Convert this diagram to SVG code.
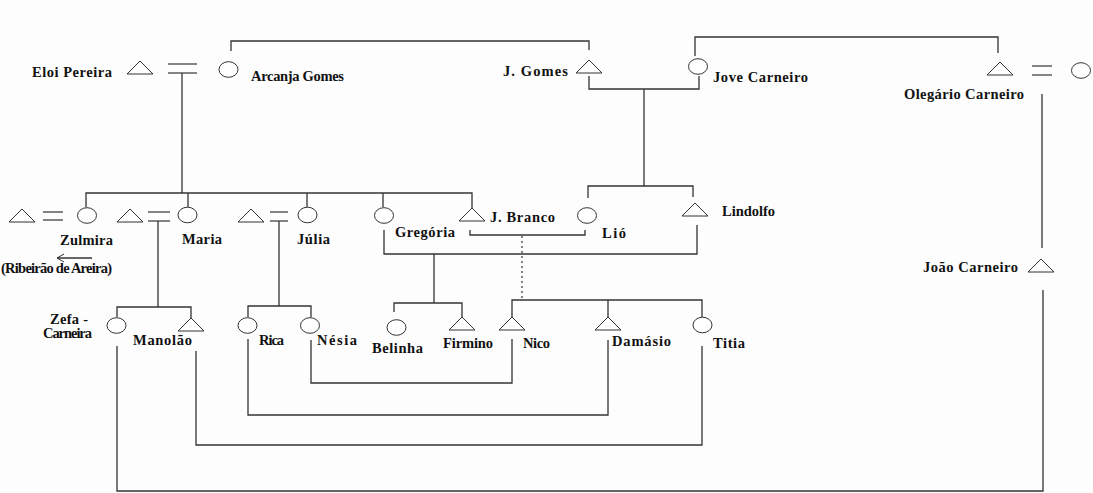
<svg xmlns="http://www.w3.org/2000/svg" xmlns:xlink="http://www.w3.org/1999/xlink" width="1093" height="493" viewBox="0 0 1093 493">
<style>
.shape{fill:#fff;stroke:#333;stroke-width:1}
.eq{stroke:#333;stroke-width:1.2}
.ln{fill:none;stroke:#333;stroke-width:1.3}
.dot{fill:none;stroke:#333;stroke-width:1.2;stroke-dasharray:2,3}
text{font-family:"Liberation Serif","Times New Roman",serif;font-weight:bold;font-size:14.5px;fill:#111}
</style>
<defs>
<polygon id="tri" points="-13,13 0,0 13,13"/>
<ellipse id="cir" rx="9.5" ry="7.8"/>
<marker id="open" markerWidth="10" markerHeight="10" refX="8" refY="5" orient="auto" markerUnits="userSpaceOnUse">
<path d="M1,1 L8,5 L1,9" fill="none" stroke="#333" stroke-width="1"/>
</marker>
</defs>
<rect width="1093" height="493" fill="#fdfdfd"/>
<g id="connectors">
<path class="ln" d="M231,51 V41 H589 V50"/>
<path class="ln" d="M695,56 V37 H998 V53"/>
<path class="ln" d="M589,76 V89 H699 V76"/>
<path class="ln" d="M644,89 V186"/>
<path class="ln" d="M588,198 V186 H693 V197"/>
<path class="ln" d="M182,73 V193"/>
<path class="ln" d="M86,207 V193 H472 V208"/>
<path class="ln" d="M188,193 V207"/>
<path class="ln" d="M307,193 V207"/>
<path class="ln" d="M383,193 V207"/>
<path class="ln" d="M470,230 V235 H585 V230"/>
<path class="dot" d="M522,236 V300"/>
<path class="ln" d="M384,230 V254 H697 V225"/>
<path class="ln" d="M434,254 V303"/>
<path class="ln" d="M394,312 V303 H462 V317"/>
<path class="ln" d="M512,317 V300 H702 V317"/>
<path class="ln" d="M608,300 V317"/>
<path class="ln" d="M158,221 V307"/>
<path class="ln" d="M117,317 V307 H191 V318"/>
<path class="ln" d="M279,221 V306"/>
<path class="ln" d="M248,317 V306 H311 V317"/>
<path class="ln" d="M1042,94 V248"/>
<path class="ln" d="M117,346 V491 H1043 V290"/>
<path class="ln" d="M196,351 V445 H702 V346"/>
<path class="ln" d="M248,339 V415 H608 V340"/>
<path class="ln" d="M311,340 V383 H512 V339"/>
<path class="ln" d="M92,258 H57" marker-end="url(#open)" stroke-width="1"/>
</g>
<g id="eloi-pereira"><use xlink:href="#tri" class="shape" x="140" y="61"/><text x="32" y="77" textLength="80" lengthAdjust="spacing">Eloi Pereira</text></g>
<g id="marriage-eloi"><line class="eq" x1="168" y1="64" x2="197" y2="64"/><line class="eq" x1="168" y1="73" x2="197" y2="73"/></g>
<g id="arcanja-gomes"><use xlink:href="#cir" class="shape" x="228.5" y="69.5"/><text x="251" y="81" textLength="93" lengthAdjust="spacing">Arcanja Gomes</text></g>
<g id="j-gomes"><use xlink:href="#tri" class="shape" x="589" y="60"/><text x="503" y="76" textLength="65" lengthAdjust="spacing">J. Gomes</text></g>
<g id="jove-carneiro"><use xlink:href="#cir" class="shape" x="698" y="66.5"/><text x="713" y="82" textLength="95" lengthAdjust="spacing">Jove Carneiro</text></g>
<g id="olegario-carneiro"><use xlink:href="#tri" class="shape" x="1000" y="62"/><text x="904" y="99" textLength="120" lengthAdjust="spacing">Olegário Carneiro</text></g>
<g id="marriage-olegario"><line class="eq" x1="1032" y1="66" x2="1052" y2="66"/><line class="eq" x1="1032" y1="75" x2="1052" y2="75"/></g>
<g id="olegario-wife"><use xlink:href="#cir" class="shape" x="1081" y="70.5"/></g>
<g id="zulmira-husband"><use xlink:href="#tri" class="shape" x="22" y="209"/></g>
<g id="marriage-zulmira"><line class="eq" x1="43" y1="212" x2="63" y2="212"/><line class="eq" x1="43" y1="220" x2="63" y2="220"/></g>
<g id="zulmira"><use xlink:href="#cir" class="shape" x="87" y="215.5"/><text x="60" y="245" textLength="53" lengthAdjust="spacing">Zulmira</text><text x="1" y="273" textLength="111" lengthAdjust="spacing">(Ribeirão de Areira)</text></g>
<g id="maria-husband"><use xlink:href="#tri" class="shape" x="130" y="209"/></g>
<g id="marriage-maria"><line class="eq" x1="148" y1="212" x2="170" y2="212"/><line class="eq" x1="148" y1="221" x2="170" y2="221"/></g>
<g id="maria"><use xlink:href="#cir" class="shape" x="187.5" y="215"/><text x="182" y="244" textLength="40" lengthAdjust="spacing">Maria</text></g>
<g id="julia-husband"><use xlink:href="#tri" class="shape" x="251" y="209"/></g>
<g id="marriage-julia"><line class="eq" x1="270" y1="212" x2="288" y2="212"/><line class="eq" x1="270" y1="221" x2="288" y2="221"/></g>
<g id="julia"><use xlink:href="#cir" class="shape" x="307.5" y="215"/><text x="297" y="244" textLength="33" lengthAdjust="spacing">Júlia</text></g>
<g id="gregoria"><use xlink:href="#cir" class="shape" x="384" y="215.5"/><text x="395" y="237" textLength="60" lengthAdjust="spacing">Gregória</text></g>
<g id="j-branco"><use xlink:href="#tri" class="shape" x="472" y="208"/><text x="490" y="222" textLength="65" lengthAdjust="spacing">J. Branco</text></g>
<g id="lio"><use xlink:href="#cir" class="shape" x="587" y="215.5"/><text x="602" y="238" textLength="24" lengthAdjust="spacing">Lió</text></g>
<g id="lindolfo"><use xlink:href="#tri" class="shape" x="695" y="203"/><text x="722" y="216" textLength="53" lengthAdjust="spacing">Lindolfo</text></g>
<g id="joao-carneiro"><use xlink:href="#tri" class="shape" x="1041" y="259"/><text x="923" y="272" textLength="95" lengthAdjust="spacing">João Carneiro</text></g>
<g id="zefa-carneira"><use xlink:href="#cir" class="shape" x="116.5" y="325.5"/><text x="50" y="324" textLength="38" lengthAdjust="spacing">Zefa -</text><text x="43" y="338" textLength="49" lengthAdjust="spacing">Carneira</text></g>
<g id="manolao"><use xlink:href="#tri" class="shape" x="191" y="318"/><text x="133" y="345" textLength="59" lengthAdjust="spacing">Manolão</text></g>
<g id="rica"><use xlink:href="#cir" class="shape" x="247.5" y="325.5"/><text x="259" y="345" textLength="25" lengthAdjust="spacing">Rica</text></g>
<g id="nesia"><use xlink:href="#cir" class="shape" x="310" y="325.5"/><text x="317" y="345" textLength="40" lengthAdjust="spacing">Nésia</text></g>
<g id="belinha"><use xlink:href="#cir" class="shape" x="396.5" y="327.5"/><text x="372" y="353" textLength="51" lengthAdjust="spacing">Belinha</text></g>
<g id="firmino"><use xlink:href="#tri" class="shape" x="462" y="317"/><text x="443" y="348" textLength="50" lengthAdjust="spacing">Firmino</text></g>
<g id="nico"><use xlink:href="#tri" class="shape" x="512" y="317"/><text x="523" y="348" textLength="27" lengthAdjust="spacing">Nico</text></g>
<g id="damasio"><use xlink:href="#tri" class="shape" x="608" y="317"/><text x="612" y="346" textLength="59" lengthAdjust="spacing">Damásio</text></g>
<g id="titia"><use xlink:href="#cir" class="shape" x="702.5" y="325"/><text x="713" y="348" textLength="32" lengthAdjust="spacing">Titia</text></g>
</svg>
